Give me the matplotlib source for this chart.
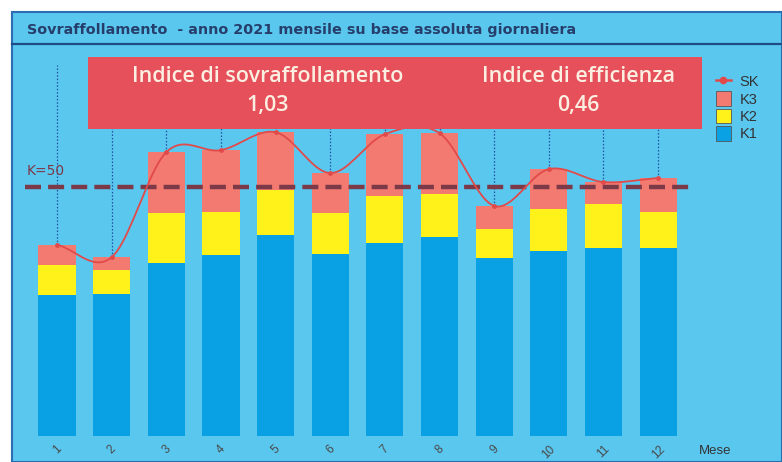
import matplotlib
matplotlib.use("Agg")
import matplotlib.pyplot as plt
import numpy as np
from matplotlib.patches import Rectangle, Patch
from matplotlib.lines import Line2D

# ---- data ----
months = [1, 2, 3, 4, 5, 6, 7, 8, 9, 10, 11, 12]
month_labels = ["1", "2", "3", "4", "5", "6", "7", "8", "9", "10", "11", "12"]
k1 = [28.3, 28.5, 34.7, 36.3, 40.4, 36.5, 38.8, 40.0, 35.7, 37.1, 37.8, 37.8]
k2 = [6.0, 4.8, 10.1, 8.7, 9.0, 8.3, 9.4, 8.6, 5.9, 8.5, 8.8, 7.2]
k3 = [4.1, 2.6, 12.2, 12.4, 11.6, 8.0, 12.4, 12.2, 4.6, 8.0, 4.4, 6.8]
sk = [38.4, 35.9, 57.0, 57.4, 61.0, 52.8, 60.6, 60.8, 46.2, 53.6, 51.0, 51.8]
k_ref = 50
title = "Sovraffollamento  - anno 2021 mensile su base assoluta giornaliera"
box_labels = ["Indice di sovraffollamento", "Indice di efficienza"]
box_values = ["1,03", "0,46"]

# ---- colours ----
BG = "#5ac7ef"
C_K1 = "#0aa0e4"
C_K2 = "#fff21a"
C_K3 = "#f27a70"
C_SK = "#e24a4a"
C_BOX = "#e6505b"
C_REF = "#7c3a48"

W, H = 782, 462
fig = plt.figure(figsize=(W / 100, H / 100), dpi=100)
fig.patch.set_facecolor("white")

def fx(x):
    return x / W

def fy(y):
    return 1 - y / H

# frame
fig.patches.append(Rectangle((fx(12), fy(462)), fx(782) - fx(12), fy(12) - fy(462),
                             transform=fig.transFigure, facecolor=BG,
                             edgecolor="#2b6db0", lw=1.5, zorder=-5))
fig.lines.append(Line2D([fx(12), fx(782)], [fy(44), fy(44)], transform=fig.transFigure,
                        color="#1f4c84", lw=1.6, zorder=1))
fig.text(fx(27), fy(30), title, fontsize=10.4, fontweight="bold", color="#263e6b",
         va="center", ha="left", family="DejaVu Sans")

# axes
ax = fig.add_axes([fx(25), fy(436), fx(692) - fx(25), fy(65) - fy(436)])
ax.set_zorder(2)
ax.set_facecolor("none")
for s in ax.spines.values():
    s.set_visible(False)

x = np.array(months, dtype=float)
k1a, k2a, k3a = np.array(k1), np.array(k2), np.array(k3)
bw = 0.68
ax.bar(x, k1a, bw, color=C_K1, zorder=2)
ax.bar(x, k2a, bw, bottom=k1a, color=C_K2, zorder=2)
ax.bar(x, k3a, bw, bottom=k1a + k2a, color=C_K3, zorder=2)

ax.set_xlim(0.414, 12.62)
ax.set_ylim(0, 74.5)

# dotted drop lines from top
ax.vlines(x, sk, 74.5, colors="#2050a0", linestyles=(0, (1.2, 1.5)), lw=0.9, zorder=1)

# smooth SK curve (Catmull-Rom rendering of the data points)
def catmull(xs, ys, n=20):
    xs = np.asarray(xs, float); ys = np.asarray(ys, float)
    px = np.concatenate([[2 * xs[0] - xs[1]], xs, [2 * xs[-1] - xs[-2]]])
    py = np.concatenate([[2 * ys[0] - ys[1]], ys, [2 * ys[-1] - ys[-2]]])
    ox, oy = [], []
    for i in range(1, len(px) - 2):
        t = np.linspace(0, 1, n, endpoint=False)
        for arr, out in ((px, ox), (py, oy)):
            p0, p1, p2, p3 = arr[i - 1], arr[i], arr[i + 1], arr[i + 2]
            out.extend(0.5 * ((2 * p1) + (-p0 + p2) * t + (2 * p0 - 5 * p1 + 4 * p2 - p3) * t ** 2
                              + (-p0 + 3 * p1 - 3 * p2 + p3) * t ** 3))
    ox.append(xs[-1]); oy.append(ys[-1])
    return ox, oy

cx, cy = catmull(x, sk)
ax.plot(cx, cy, color=C_SK, lw=1.3, zorder=4)
ax.plot(x, sk, "o", color=C_SK, ms=2.5, zorder=4)

# reference line K=50
ax.axhline(k_ref, color=C_REF, lw=3.2, ls=(0, (3.6, 1.6)), zorder=3)
ax.text(0.45, k_ref + 1.8, f"K={k_ref}", color=C_REF, fontsize=10, ha="left", va="bottom",
        family="DejaVu Sans")

ax.set_yticks([])
ax.set_xticks(x)
ax.set_xticklabels(month_labels, rotation=45, fontsize=8.5, color="#4a4a4a",
                   family="Liberation Sans")
ax.tick_params(axis="x", length=0, pad=5)
fig.text(fx(715), fy(451), "Mese", fontsize=9.5, color="#333333", ha="center", va="center",
         family="Liberation Sans")

# info box
fig.patches.append(Rectangle((fx(88), fy(129)), fx(702) - fx(88), fy(57) - fy(129),
                             transform=fig.transFigure, facecolor=C_BOX, edgecolor="none",
                             zorder=5))
for cxp, lab, val in zip([268, 578], box_labels, box_values):
    fig.text(fx(cxp), fy(76), lab, fontsize=15.5, color="#fbefe2", ha="center", va="center",
             family="Open Sans", fontweight="semibold", zorder=6)
    fig.text(fx(cxp), fy(105), val, fontsize=15.5, color="#fbefe2", ha="center", va="center",
             family="Open Sans", fontweight="semibold", zorder=6)

# legend
handles = [Line2D([], [], color=C_SK, marker="o", ms=4.5, lw=1.8),
           Patch(facecolor=C_K3, edgecolor="#555555", lw=0.6),
           Patch(facecolor=C_K2, edgecolor="#555555", lw=0.6),
           Patch(facecolor=C_K1, edgecolor="#555555", lw=0.6)]
leg = fig.legend(handles, ["SK", "K3", "K2", "K1"], loc="upper left",
                 bbox_to_anchor=(fx(716), fy(74)), frameon=False,
                 labelcolor="#333333", handlelength=1.0, handleheight=1.15,
                 labelspacing=0.15, handletextpad=0.6, borderpad=0, borderaxespad=0,
                 prop={"family": "Liberation Sans", "size": 10.5})
leg.set_zorder(7)

fig.savefig("out.png", dpi=100)
